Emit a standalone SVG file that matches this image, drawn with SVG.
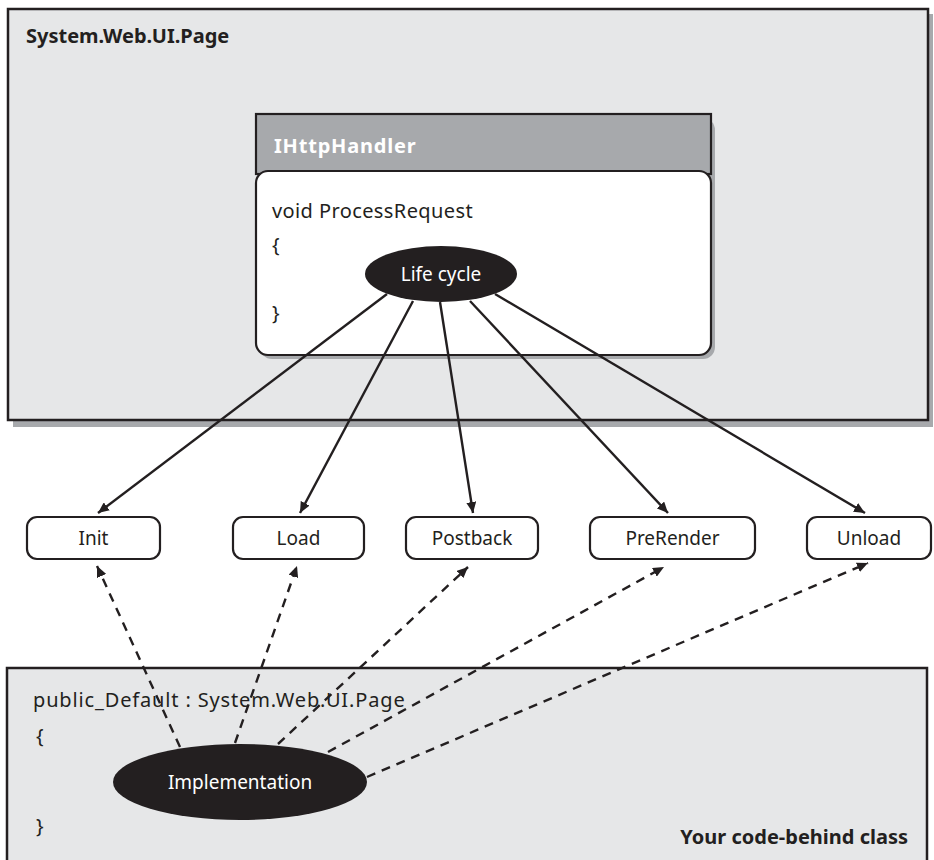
<svg xmlns="http://www.w3.org/2000/svg" width="934" height="860" viewBox="0 0 934 860">
<style>
.frame{fill:#e6e7e8;stroke:#231f20;stroke-width:2.5}
.shadow{fill:#a7a9ac}
.t{font-family:"Noto Sans","Open Sans",sans-serif;font-size:19px;fill:#231f20}
.c{font-size:20px;letter-spacing:0.4px}
.b{font-weight:bold;font-size:20px}
.w{fill:#ffffff}
.box{fill:#ffffff;stroke:#231f20;stroke-width:2.2}
.solid{stroke:#231f20;stroke-width:2.4;fill:none;marker-end:url(#ah)}
.dash{stroke:#231f20;stroke-width:2.4;fill:none;stroke-dasharray:9 7;marker-end:url(#ah)}
</style>
<defs>
<marker id="ah" markerUnits="userSpaceOnUse" markerWidth="12" markerHeight="10" refX="11" refY="5" orient="auto">
<path d="M0,0 L11,5 L0,10 Z" fill="#231f20"/>
</marker>
</defs>
<rect width="934" height="860" fill="#ffffff"/>
<g id="page">
<rect class="shadow" x="13" y="14" width="920" height="413"/>
<rect class="frame" x="8" y="9" width="920" height="411"/>
<text class="t b" x="26" y="43">System.Web.UI.Page</text>
</g>
<g id="handler">
<rect class="shadow" x="260" y="118" width="455" height="241" rx="12"/>
<rect x="256" y="114" width="455" height="60" fill="#a7a9ac" stroke="#231f20" stroke-width="2.2"/>
<text class="t b w" x="274" y="153" letter-spacing="0.8">IHttpHandler</text>
<rect class="box" x="256" y="171" width="455" height="184" rx="12"/>
<text class="t c" x="272" y="218">void ProcessRequest</text>
<text class="t c" x="272" y="252">{</text>
<text class="t c" x="272" y="320">}</text>
</g>
<g id="codebehind">
<rect class="frame" x="7" y="668" width="920" height="200"/>
<text class="t c" x="33" y="707" style="letter-spacing:0.85px">public_Default : System.Web.UI.Page</text>
<text class="t c" x="36" y="743">{</text>
<text class="t c" x="36" y="833">}</text>
<text class="t b" x="908" y="844" text-anchor="end">Your code-behind class</text>
</g>
<g id="connectors">
<line class="solid" x1="387" y1="294" x2="98" y2="513"/>
<line class="solid" x1="413" y1="301" x2="300" y2="513"/>
<line class="solid" x1="440" y1="302" x2="473" y2="513"/>
<line class="solid" x1="470" y1="301" x2="668" y2="513"/>
<line class="solid" x1="495" y1="294" x2="865" y2="513"/>
<line class="dash" x1="180" y1="747" x2="97" y2="566"/>
<line class="dash" x1="235" y1="743" x2="297" y2="566"/>
<line class="dash" x1="278" y1="744" x2="468" y2="567"/>
<line class="dash" x1="328" y1="752" x2="664" y2="567"/>
<line class="dash" x1="367" y1="777" x2="868" y2="563"/>
</g>
<g id="lifecycle">
<ellipse cx="441" cy="274" rx="76" ry="28" fill="#231f20"/>
<text class="t w" x="441" y="281" text-anchor="middle" font-size="20">Life cycle</text>
</g>
<g id="implementation">
<ellipse cx="240" cy="782" rx="127" ry="38" fill="#231f20"/>
<text class="t w" x="240" y="789" text-anchor="middle">Implementation</text>
</g>
<g id="init">
<rect class="box" x="27" y="517" width="133" height="42" rx="10"/>
<text class="t" x="93.5" y="545" text-anchor="middle">Init</text>
</g>
<g id="load">
<rect class="box" x="233" y="517" width="131" height="42" rx="10"/>
<text class="t" x="298.5" y="545" text-anchor="middle">Load</text>
</g>
<g id="postback">
<rect class="box" x="406" y="517" width="132" height="42" rx="10"/>
<text class="t" x="472" y="545" text-anchor="middle">Postback</text>
</g>
<g id="prerender">
<rect class="box" x="590" y="517" width="165" height="42" rx="10"/>
<text class="t" x="672.5" y="545" text-anchor="middle">PreRender</text>
</g>
<g id="unload">
<rect class="box" x="807" y="517" width="124" height="42" rx="10"/>
<text class="t" x="869" y="545" text-anchor="middle">Unload</text>
</g>
</svg>
